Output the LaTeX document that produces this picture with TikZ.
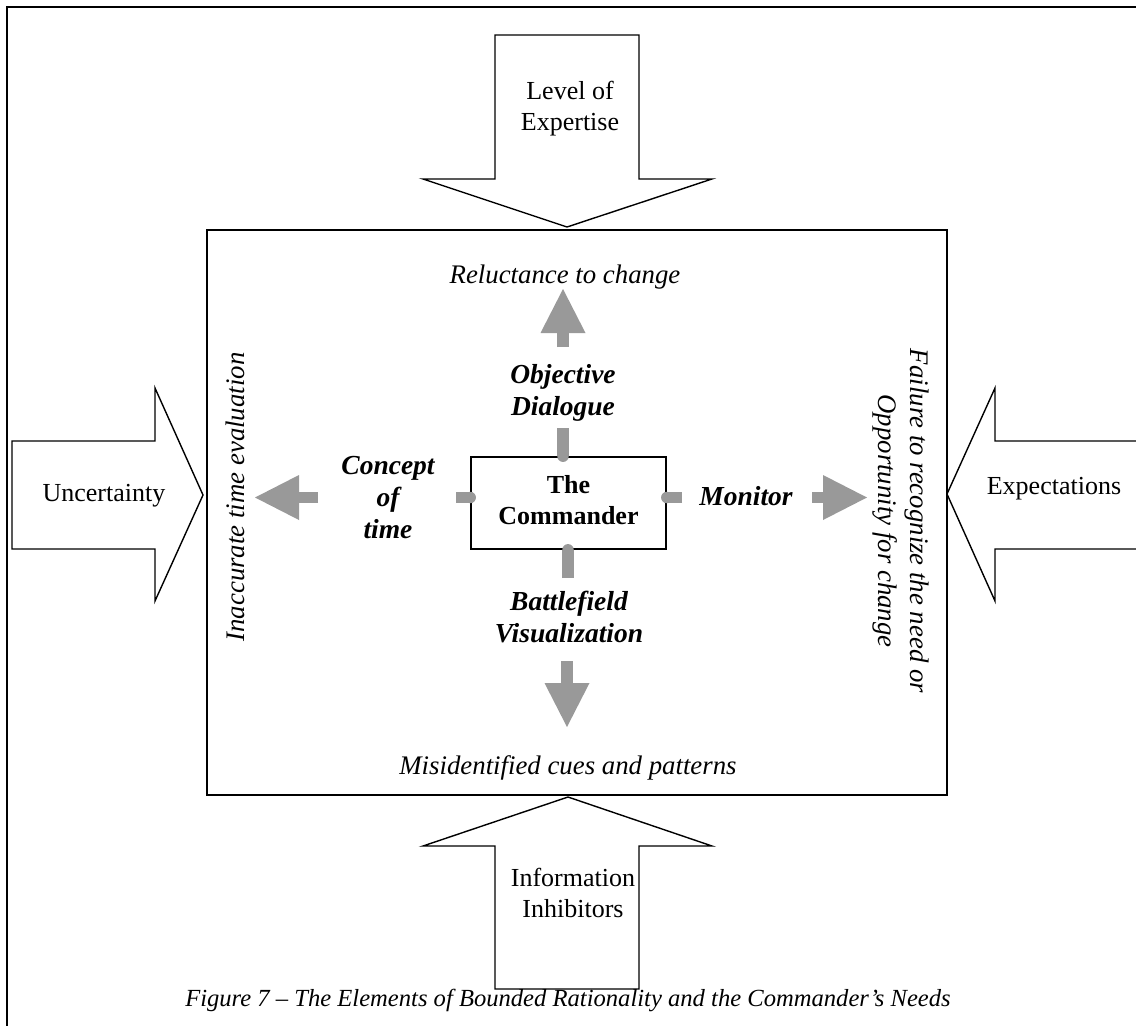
\documentclass[tikz,border=0pt]{standalone}
\usepackage{fontspec}
\setmainfont{Liberation Serif}
\usetikzlibrary{arrows.meta}
\definecolor{flowgrey}{RGB}{153,153,153}
\begin{document}
\begin{tikzpicture}[x=1pt,y=-1pt,
  txt/.style={font=\fontsize{26}{31}\selectfont, inner sep=0pt, align=center},
  itxt/.style={txt, font=\fontsize{26.8}{32}\selectfont\itshape},
  bitxt/.style={txt, font=\fontsize{27.5}{32}\selectfont\bfseries\itshape},
  btxt/.style={txt, font=\fontsize{26}{31}\selectfont\bfseries},
  captxt/.style={txt, font=\fontsize{24.6}{29}\selectfont\itshape},
  bigarrow/.style={draw=black, line width=1.4pt, fill=white, line join=miter},
  frame/.style={draw=black, line width=1.6pt},
  stub/.style={line width=11.5pt, color=flowgrey},
  flow/.style={line width=11.5pt, color=flowgrey,
    -{Triangle[length=44pt,width=45pt,line width=0pt]}},
]
\useasboundingbox (0,0) rectangle (1136,1026);

% outer frame and the right-hand input arrow, trimmed at the page edge
\begin{scope}
  \clip (0,0) rectangle (1136,1026);
  \draw[line width=2.4pt] (7,7) rectangle (1160,1050);
  \draw[bigarrow] (1160,441) -- (995,441) -- (995,388) -- (947,494)
    -- (995,601) -- (995,549) -- (1160,549) -- cycle;
\end{scope}

% remaining input arrows
\draw[bigarrow] (495,35) -- (639,35) -- (639,179) -- (712,179) -- (567,227)
  -- (423,179) -- (495,179) -- cycle;
\draw[bigarrow] (495,989) -- (639,989) -- (639,846) -- (712,846) -- (568,797)
  -- (423,846) -- (495,846) -- cycle;
\draw[bigarrow] (12,441) -- (155,441) -- (155,388) -- (203,495) -- (155,601)
  -- (155,549) -- (12,549) -- cycle;

% bounded rationality box
\draw[frame] (207,230) rectangle (947,795);

% input labels
\node[txt] (lev) at (570,109) {Level of\\Expertise};
\node[txt] (inf) at (573,892.5) {Information\\Inhibitors};
\node[txt, anchor=base] (unc) at (104,501) {Uncertainty};
\node[txt, anchor=base] (exp) at (1054,494) {Expectations};

% commander
\node[frame, minimum width=195pt, minimum height=92pt, inner sep=0pt] (cmd) at (568.5,503) {};
\node[btxt] (cmdtxt) at (568.5,500.5) {The\\Commander};

% needs
\node[bitxt] (dlg) at (563,392.5) {Objective\\Dialogue};
\node[bitxt] (tim) at (388,497.5) {Concept\\of\\time};
\node[bitxt, anchor=base] (mon) at (746,505) {Monitor};
\node[bitxt] (vis) at (569,617) {Battlefield\\Visualization};

% failure modes
\node[itxt, anchor=base] (rel) at (565,283) {Reluctance to change};
\node[itxt, anchor=base] (mis) at (568,774) {Misidentified cues and patterns};
\node[itxt, rotate=90] (ina) at (235,497) {Inaccurate time evaluation};
\node[itxt, rotate=-90] (fai) at (901,521) {Failure to recognize the need or\\Opportunity for change};

% stubs leaving the commander box
\coordinate (sT) at (563,428);
\coordinate (sB) at (568,578);
\coordinate (sL) at (456,497.5);
\coordinate (sR) at (682,497.5);
\draw[stub] (sT) -- (sT |- cmd.north); \fill[flowgrey] (sT |- cmd.north) circle (5.75pt);
\draw[stub] (sB) -- (sB |- cmd.south); \fill[flowgrey] (sB |- cmd.south) circle (5.75pt);
\draw[stub] (sL) -- (sL -| cmd.west);  \fill[flowgrey] (sL -| cmd.west) circle (5.75pt);
\draw[stub] (sR) -- (sR -| cmd.east);  \fill[flowgrey] (sR -| cmd.east) circle (5.75pt);

% arrows from each need towards its failure mode
\coordinate (aT0) at (563,347); \coordinate (aT1) at (563,289);
\coordinate (aB0) at (567,661); \coordinate (aB1) at (567,727);
\coordinate (aL0) at (318,497.5); \coordinate (aL1) at (255,497.5);
\coordinate (aR0) at (812,497.5); \coordinate (aR1) at (867,497.5);
\draw[flow] (aT0) -- (aT1);
\draw[flow] (aB0) -- (aB1);
\draw[flow] (aL0) -- (aL1);
\draw[flow] (aR0) -- (aR1);

% caption
\node[captxt, anchor=base] (cap) at (568,1006) {Figure 7 – The Elements of Bounded Rationality and the Commander’s Needs};
\end{tikzpicture}
\end{document}
